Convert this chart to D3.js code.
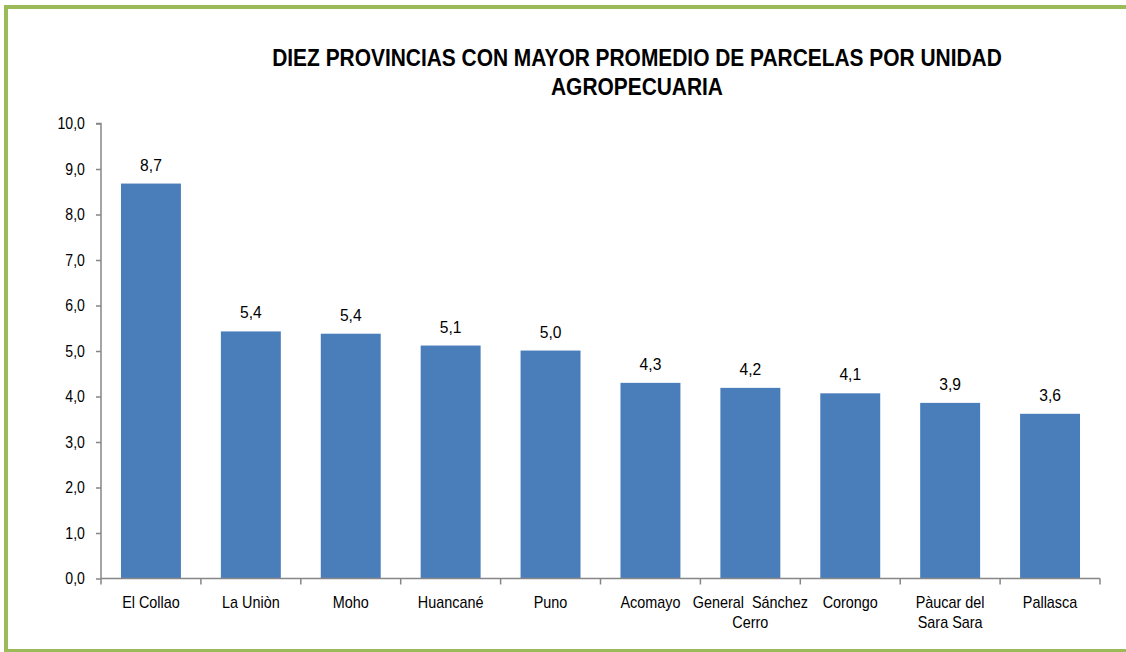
<!DOCTYPE html>
<html>
<head>
<meta charset="utf-8">
<script src="https://cdn.jsdelivr.net/npm/d3@7"></script>
<style>
  html, body { margin: 0; padding: 0; background: #fff; }
  svg { display: block; }
</style>
</head>
<body>
<svg id="chart" width="1126" height="652"></svg>
<script>
const categories = [
  ["El Collao"], ["La Uniòn"], ["Moho"], ["Huancané"], ["Puno"],
  ["Acomayo"], ["General  Sánchez", "Cerro"], ["Corongo"],
  ["Pàucar del", "Sara Sara"], ["Pallasca"]
];
const values = [8.68, 5.43, 5.38, 5.12, 5.01, 4.30, 4.19, 4.07, 3.86, 3.62];
const yTicks = [0, 1, 2, 3, 4, 5, 6, 7, 8, 9, 10];
const titleLines = ["DIEZ PROVINCIAS CON MAYOR PROMEDIO DE PARCELAS POR UNIDAD", "AGROPECUARIA"];

(function () {
const svg = d3.select("#chart");
const W = 1126, H = 652;
const green = "#9BBB59";
const axisColor = "#868686";
const narrow = "'Liberation Sans Narrow', 'Arial Narrow', 'Liberation Sans', Arial, sans-serif";

// frame
svg.append("rect").attr("x", 4).attr("y", 5).attr("width", W).attr("height", 4).attr("fill", green);
svg.append("rect").attr("x", 4).attr("y", 5).attr("width", 4).attr("height", 646).attr("fill", green);
svg.append("rect").attr("x", 4).attr("y", 649).attr("width", W).attr("height", 3).attr("fill", green);

const pLeft = 101, pRight = 1100, pTop = 123.5, pBottom = 578.5;
const x = d3.scaleBand().domain(d3.range(categories.length)).range([pLeft, pRight])
  .paddingInner(0.4).paddingOuter(0.2);
const y = d3.scaleLinear().domain([0, 10]).range([pBottom, pTop]);

// title (condensed horizontally to mimic a narrow face)
const title = svg.append("g").attr("transform", "translate(637,0) scale(0.91,1)")
  .append("text").attr("text-anchor", "middle")
  .attr("font-family", narrow).attr("font-weight", "bold").attr("font-size", 23)
  .attr("fill", "#000");
titleLines.forEach((t, i) => {
  title.append("tspan").attr("x", 0).attr("y", 66 + i * 29).text(t);
});

// bars
svg.append("g").selectAll("rect").data(values).join("rect")
  .attr("x", (d, i) => x(i))
  .attr("y", d => y(d))
  .attr("width", x.bandwidth())
  .attr("height", d => y(0) - y(d))
  .attr("fill", "#4A7EBB");

// y axis
const fmt = d => d3.format(".1f")(d).replace(".", ",");
const yAxis = d3.axisLeft(y).tickValues(yTicks).tickFormat(fmt).tickSize(5).tickPadding(11);
const gy = svg.append("g").attr("transform", `translate(${pLeft},0)`).call(yAxis);
gy.select(".domain").attr("stroke", axisColor).attr("stroke-width", 1.5).attr("d", `M-5,${pTop}H0V${pBottom}`);
gy.selectAll(".tick line").attr("stroke", axisColor).attr("stroke-width", 1.5);
gy.selectAll(".tick text").attr("font-family", narrow).attr("font-size", 16).attr("fill", "#000")
  .attr("transform", "translate(-2,0) scale(0.88,1)");

// x axis
const xb = d3.scaleLinear().domain([0, categories.length]).range([pLeft, pRight]);
const gx = svg.append("g").attr("transform", `translate(0,${pBottom})`);
gx.append("line").attr("x1", pLeft).attr("x2", pRight).attr("y1", 0).attr("y2", 0)
  .attr("stroke", axisColor).attr("stroke-width", 1.5);
gx.selectAll("line.tk").data(d3.range(categories.length + 1)).join("line").attr("class", "tk")
  .attr("x1", d => xb(d)).attr("x2", d => xb(d)).attr("y1", 0).attr("y2", 6)
  .attr("stroke", axisColor).attr("stroke-width", 1.5);
const labels = gx.selectAll("g.lbl").data(categories).join("g").attr("class", "lbl")
  .attr("transform", (d, i) => `translate(${x(i) + x.bandwidth() / 2},0) scale(0.9,1)`)
  .append("text")
  .attr("text-anchor", "middle")
  .style("white-space", "pre")
  .attr("font-family", narrow).attr("font-size", 16).attr("fill", "#000");
labels.each(function(lines) {
  d3.select(this).selectAll("tspan").data(lines).join("tspan")
    .attr("x", 0)
    .attr("y", (d, j) => 30 + j * 20)
    .text(d => d);
});

// data labels
svg.append("g").selectAll("g").data(values).join("g")
  .attr("transform", (d, i) => `translate(${x(i) + x.bandwidth() / 2},${y(d) - 13}) scale(0.92,1)`)
  .append("text")
  .attr("text-anchor", "middle")
  .attr("font-family", narrow).attr("font-size", 17).attr("fill", "#000")
  .text(d => fmt(d));
})();
</script>
</body>
</html>
